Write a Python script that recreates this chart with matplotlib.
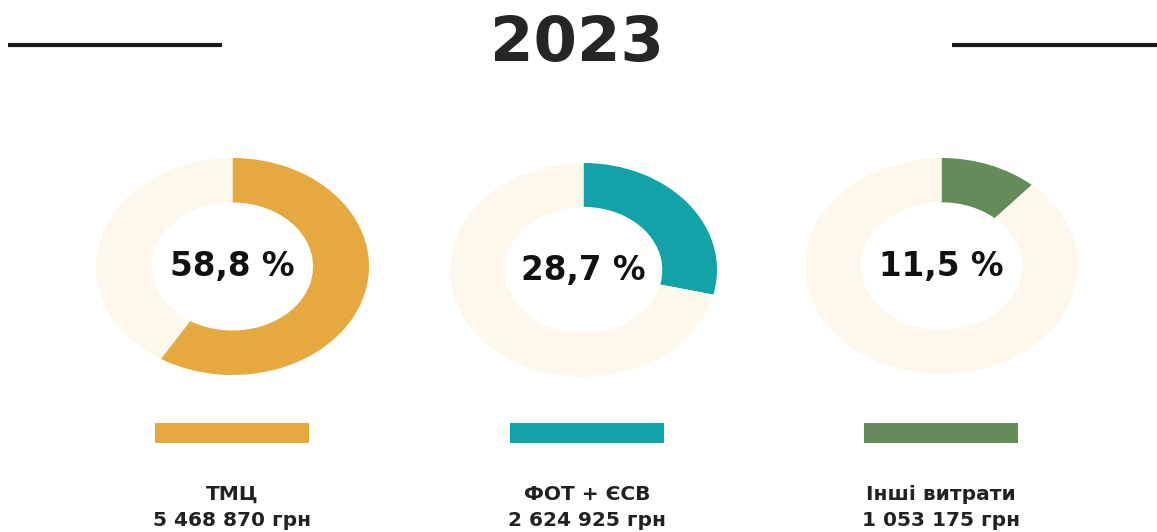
import matplotlib.pyplot as plt

# data
year = "2023"
categories = ["ТМЦ", "ФОТ + ЄСВ", "Інші витрати"]
shares = [58.8, 28.7, 11.5]
share_labels = ["58,8 %", "28,7 %", "11,5 %"]
amounts = ["5 468 870 грн", "2 624 925 грн", "1 053 175 грн"]
colors = ["#E6A940", "#12A3A8", "#638C5A"]
rest_color = "#FEF8EC"

W, H = 1157, 532
fig = plt.figure(figsize=(W / 100, H / 100), dpi=100)
fig.patch.set_facecolor("white")

# overlay axes in pixel coordinates
bg = fig.add_axes([0, 0, 1, 1])
bg.set_xlim(0, W)
bg.set_ylim(H, 0)
bg.axis("off")

# title and side lines
bg.text(577, 44, year, ha="center", va="center", fontsize=45,
        fontweight="bold", family="DejaVu Sans", color="#262626")
bg.plot([8, 222], [45, 45], color="#1a1a1a", lw=3, solid_capstyle="butt")
bg.plot([952, W], [45, 45], color="#1a1a1a", lw=3, solid_capstyle="butt")

# donut boxes (left, top, right, bottom) in pixels
boxes = [(96, 158, 369, 375), (450, 163, 717, 377), (805, 158, 1078, 374)]
centers = [232, 587, 941]

for i, (l, t, r, b) in enumerate(boxes):
    ax = fig.add_axes([l / W, 1 - b / H, (r - l) / W, (b - t) / H])
    ax.pie([shares[i], 100 - shares[i]], colors=[colors[i], rest_color],
           startangle=90, counterclock=False,
           wedgeprops=dict(width=0.41, linewidth=0))
    ax.set_aspect("auto")
    ax.set_xlim(-1, 1)
    ax.set_ylim(-1, 1)
    ax.text(0, 0, share_labels[i], ha="center", va="center", fontsize=23.5,
            family="DejaVu Sans", fontweight="bold", color="#111111")

    # legend swatch
    bg.barh(433, 154, left=centers[i] - 77, height=20, color=colors[i])
    bg.text(centers[i], 494, categories[i], ha="center", va="center",
            fontsize=14.5, fontweight="bold", family="DejaVu Sans", color="#222222")
    bg.text(centers[i], 520, amounts[i], ha="center", va="center",
            fontsize=14.5, fontweight="bold", family="DejaVu Sans", color="#222222")

fig.savefig("out.png", dpi=100)
